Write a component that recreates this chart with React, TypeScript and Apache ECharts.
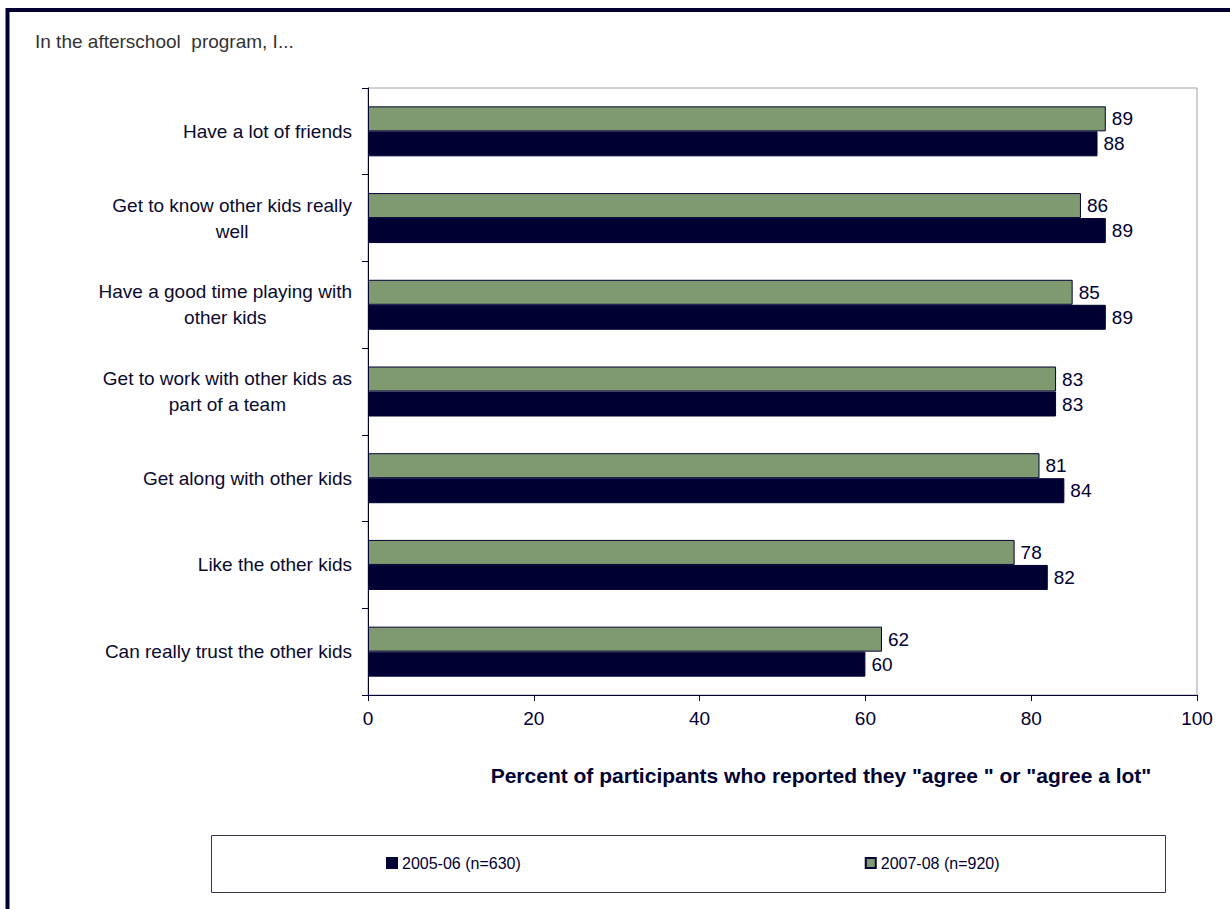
import React, { useEffect, useRef } from "react";
import * as echarts from "echarts";

// Categories listed top-to-bottom as they appear in the chart
const categories: string[] = [
  "Have a lot of friends",
  "Get to know other kids really\nwell",
  "Have a good time playing with\nother kids",
  "Get to work with other kids as\npart of a team",
  "Get along with other kids",
  "Like the other kids",
  "Can really trust the other kids",
];
const seriesNames: string[] = ["2005-06 (n=630)", "2007-08 (n=920)"];
const values2005: number[] = [88, 89, 89, 83, 84, 82, 60];
const values2007: number[] = [89, 86, 85, 83, 81, 78, 62];
const xTicks = { min: 0, max: 100, interval: 20 };
const chartTitle = "In the afterschool  program, I...";
const xAxisTitle = 'Percent of participants who reported they "agree " or "agree a lot"';

const FONT = '"Liberation Sans", Arial, Helvetica, sans-serif';
const NAVY = "#000033";
const GREEN = "#7F9A70";

export default function App() {
  const ref = useRef<HTMLDivElement>(null);
  useEffect(() => {
    if (!ref.current) return;
    const chart = echarts.init(ref.current, undefined, { renderer: "svg" });
    const cats = categories.slice().reverse();
    const v05 = values2005.slice().reverse();
    const v07 = values2007.slice().reverse();
    const labelStyle = {
      show: true,
      position: "right" as const,
      distance: 6,
      fontSize: 19,
      color: NAVY,
      fontFamily: FONT,
    };
    chart.setOption({
      animation: false,
      backgroundColor: "#ffffff",
      textStyle: { fontFamily: FONT },
      title: {
        text: chartTitle,
        left: 35,
        top: 32,
        padding: 0,
        textStyle: { fontSize: 19, fontWeight: "normal", color: "#333333", fontFamily: FONT },
      },
      grid: {
        left: 368,
        top: 88,
        width: 829,
        height: 607,
        show: true,
        borderColor: "#A0A0A0",
        borderWidth: 1,
        backgroundColor: "transparent",
        containLabel: false,
      },
      legend: {
        data: seriesNames,
        left: 386,
        top: 855,
        padding: 0,
        itemWidth: 10,
        itemHeight: 10,
        itemGap: 344,
        icon: "rect",
        textStyle: { fontSize: 16, color: NAVY, fontFamily: FONT },
      },
      xAxis: {
        type: "value",
        min: xTicks.min,
        max: xTicks.max,
        interval: xTicks.interval,
        axisLine: { show: true, lineStyle: { color: NAVY, width: 1 } },
        axisTick: { show: true, length: 6, lineStyle: { color: NAVY } },
        splitLine: { show: false },
        axisLabel: { fontSize: 19, color: NAVY, margin: 14, fontFamily: FONT },
      },
      yAxis: {
        type: "category",
        data: cats,
        axisLine: { show: true, lineStyle: { color: NAVY, width: 1 } },
        axisTick: { show: true, length: 6, lineStyle: { color: NAVY } },
        axisLabel: {
          margin: 16,
          align: "right",
          formatter: (v: string) =>
            v
              .split("\n")
              .map((l) => `{c|${l}}`)
              .join("\n"),
          rich: {
            c: {
              align: "center",
              fontSize: 19,
              lineHeight: 26,
              color: "#0A0A30",
              fontFamily: FONT,
            },
          },
        },
      },
      series: [
        {
          name: seriesNames[1],
          type: "bar",
          data: v07,
          barWidth: 25,
          barGap: "0%",
          itemStyle: { color: GREEN, borderColor: NAVY, borderWidth: 1 },
          label: labelStyle,
        },
        {
          name: seriesNames[0],
          type: "bar",
          data: v05,
          barWidth: 25,
          barGap: "0%",
          itemStyle: { color: NAVY, borderColor: NAVY, borderWidth: 1 },
          label: labelStyle,
        },
      ],
      graphic: [
        {
          type: "rect",
          shape: { x: 7.5, y: 10, width: 1400, height: 1000 },
          style: { fill: "none", stroke: NAVY, lineWidth: 4 },
          silent: true,
        },
        {
          type: "rect",
          shape: { x: 211.5, y: 835.5, width: 954, height: 57 },
          style: { fill: "none", stroke: "#333355", lineWidth: 1 },
          silent: true,
          z: -1,
        },
        {
          type: "text",
          x: 821,
          y: 775,
          style: {
            text: xAxisTitle,
            fontSize: 21,
            fontWeight: "bold",
            fill: NAVY,
            fontFamily: FONT,
            align: "center",
            verticalAlign: "middle",
          },
        },
      ],
    });
    return () => chart.dispose();
  }, []);
  return (
    <div
      ref={ref}
      style={{ position: "absolute", left: 0, top: 0, width: 1230, height: 909 }}
    />
  );
}
